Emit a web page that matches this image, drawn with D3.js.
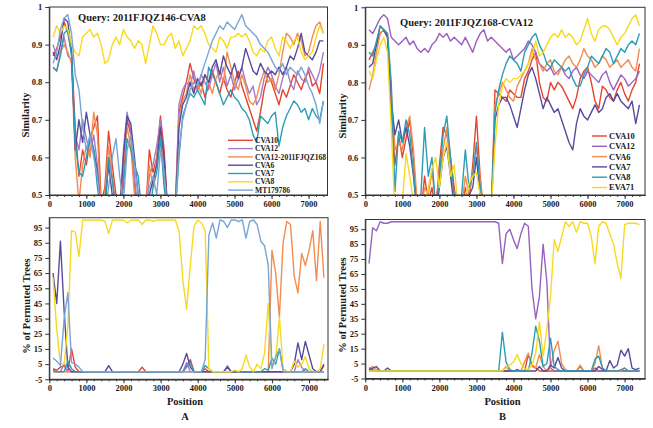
<!DOCTYPE html>
<html lang="en">
<head>
<meta charset="utf-8">
<title>Similarity plot and bootscan analysis</title>
<script src="https://cdn.jsdelivr.net/npm/d3@7/dist/d3.min.js"></script>
<style>
    body { margin: 0; background: #fff; }
    svg text { font-family: "Liberation Serif", "Times New Roman", serif; font-weight: bold; fill: #1a1a1a; }
    .axis text { font: bold 8.5px "Liberation Serif", serif; fill: #1a1a1a; }
    .axis line, .axis path { stroke: #333; }
</style>
</head>
<body>
<svg id="chart" width="653" height="428"></svg>
<script>

// window positions (bp) shared by all four panels
var positions = [
    100, 200, 300, 400, 500, 600, 700, 800, 900, 1000,
    1100, 1200, 1300, 1400, 1500, 1600, 1700, 1800, 1900, 2000,
    2100, 2200, 2300, 2400, 2500, 2600, 2700, 2800, 2900, 3000,
    3100, 3200, 3300, 3400, 3500, 3600, 3700, 3800, 3900, 4000,
    4100, 4200, 4300, 4400, 4500, 4600, 4700, 4800, 4900, 5000,
    5100, 5200, 5300, 5400, 5500, 5600, 5700, 5800, 5900, 6000,
    6100, 6200, 6300, 6400, 6500, 6600, 6700, 6800, 6900, 7000,
    7100, 7200, 7300, 7400];

var x_tick_labels = [0, 1000, 2000, 3000, 4000, 5000, 6000, 7000];
var sim_tick_labels = [0.5, 0.6, 0.7, 0.8, 0.9, 1];
var boot_tick_labels = [-5, 5, 15, 25, 35, 45, 55, 65, 75, 85, 95];

// panel A: query 2011FJQZ146-CVA8
var names_a = ["CVA10", "CVA12", "CVA12-2011FJQZ168", "CVA6", "CVA7", "CVA8", "MT179786"];
var colors_a = ["#e8432d", "#a27bc9", "#f28c50", "#574a9c", "#2a9db6", "#f9d91e", "#78a5d6"];

// panel B: query 2011FJQZ168-CVA12
var names_b = ["CVA10", "CVA12", "CVA6", "CVA7", "CVA8", "EVA71"];
var colors_b = ["#e8432d", "#9a60bf", "#f28c50", "#574a9c", "#2a9db6", "#f9d91e"];

// similarity, panel A (values under 0.5 run off the bottom of the plot)
var simA_cva10 = [
    0.87,0.89,0.92,0.96,0.93,0.88,0.68,0.55,0.62,0.58,
    0.65,0.68,0.71,0.48,0.52,0.67,0.58,0.50,0.45,0.55,
    0.70,0.66,0.52,0.45,0.48,0.45,0.62,0.56,0.60,0.71,
    0.62,0.45,0.45,0.45,0.72,0.76,0.80,0.85,0.81,0.78,
    0.80,0.76,0.79,0.83,0.80,0.77,0.81,0.78,0.76,0.80,
    0.83,0.79,0.76,0.73,0.70,0.67,0.72,0.78,0.82,0.80,
    0.77,0.74,0.78,0.76,0.79,0.82,0.80,0.78,0.81,0.83,
    0.79,0.80,0.77,0.85];
var simA_cva12 = [
    0.90,0.87,0.88,0.92,0.87,0.86,0.66,0.62,0.70,0.65,
    0.61,0.66,0.58,0.45,0.45,0.60,0.55,0.46,0.45,0.62,
    0.72,0.67,0.55,0.45,0.45,0.45,0.55,0.58,0.63,0.70,
    0.58,0.45,0.45,0.46,0.74,0.78,0.80,0.79,0.83,0.78,
    0.82,0.80,0.78,0.82,0.85,0.80,0.84,0.79,0.82,0.78,
    0.81,0.84,0.80,0.77,0.79,0.74,0.76,0.81,0.84,0.82,
    0.79,0.77,0.81,0.84,0.80,0.78,0.83,0.81,0.80,0.84,
    0.82,0.80,0.83,0.88];
var simA_cva12_168 = [
    0.84,0.83,0.88,0.90,0.88,0.85,0.60,0.48,0.58,0.63,
    0.60,0.72,0.66,0.45,0.50,0.63,0.55,0.45,0.45,0.58,
    0.68,0.63,0.50,0.45,0.45,0.45,0.58,0.52,0.60,0.66,
    0.55,0.45,0.45,0.45,0.70,0.75,0.77,0.82,0.78,0.80,
    0.77,0.82,0.80,0.77,0.81,0.83,0.80,0.88,0.84,0.80,
    0.78,0.82,0.79,0.75,0.74,0.76,0.80,0.83,0.80,0.81,
    0.78,0.82,0.88,0.93,0.92,0.90,0.93,0.91,0.87,0.88,
    0.92,0.95,0.96,0.93];
var simA_cva6 = [
    0.88,0.86,0.90,0.97,0.96,0.88,0.62,0.70,0.64,0.72,
    0.66,0.62,0.56,0.45,0.48,0.58,0.50,0.45,0.45,0.60,
    0.71,0.69,0.60,0.50,0.45,0.45,0.50,0.54,0.58,0.68,
    0.60,0.45,0.45,0.45,0.68,0.74,0.76,0.80,0.77,0.81,
    0.79,0.82,0.80,0.84,0.86,0.82,0.87,0.84,0.82,0.85,
    0.81,0.84,0.89,0.86,0.83,0.82,0.85,0.83,0.82,0.83,
    0.82,0.84,0.82,0.84,0.87,0.86,0.89,0.93,0.88,0.87,
    0.86,0.88,0.91,0.91];
var simA_cva7 = [
    0.84,0.83,0.87,0.93,0.94,0.87,0.64,0.56,0.55,0.60,
    0.66,0.62,0.52,0.45,0.45,0.60,0.54,0.45,0.45,0.52,
    0.65,0.62,0.58,0.55,0.45,0.45,0.45,0.52,0.56,0.65,
    0.52,0.45,0.45,0.45,0.60,0.71,0.74,0.77,0.76,0.78,
    0.76,0.74,0.84,0.82,0.80,0.77,0.74,0.76,0.78,0.76,
    0.75,0.73,0.72,0.70,0.66,0.64,0.71,0.70,0.69,0.71,
    0.72,0.63,0.68,0.71,0.73,0.75,0.74,0.72,0.73,0.70,
    0.73,0.71,0.70,0.75];
var simA_cva8 = [
    0.92,0.95,0.93,0.95,0.94,0.90,0.88,0.87,0.92,0.93,
    0.94,0.92,0.93,0.90,0.85,0.86,0.90,0.92,0.90,0.94,
    0.92,0.91,0.89,0.91,0.90,0.85,0.90,0.95,0.93,0.90,
    0.90,0.92,0.93,0.89,0.91,0.87,0.89,0.91,0.95,0.94,
    0.95,0.93,0.90,0.89,0.88,0.92,0.91,0.89,0.92,0.92,
    0.93,0.92,0.93,0.91,0.88,0.87,0.89,0.88,0.91,0.92,
    0.89,0.87,0.92,0.91,0.89,0.91,0.92,0.88,0.86,0.87,
    0.88,0.92,0.95,0.93];
var simA_mt179786 = [
    0.85,0.88,0.94,0.97,0.98,0.93,0.82,0.78,0.68,0.62,
    0.66,0.60,0.55,0.45,0.45,0.52,0.60,0.65,0.55,0.48,
    0.62,0.66,0.58,0.50,0.45,0.45,0.52,0.55,0.50,0.62,
    0.56,0.45,0.45,0.45,0.62,0.70,0.74,0.78,0.80,0.79,
    0.82,0.85,0.88,0.91,0.93,0.95,0.94,0.96,0.95,0.94,
    0.96,0.98,0.95,0.94,0.93,0.92,0.90,0.89,0.88,0.86,
    0.84,0.83,0.85,0.82,0.84,0.83,0.82,0.84,0.82,0.79,
    0.77,0.74,0.69,0.75];

// similarity, panel B
var simB_cva10 = [
    0.86,0.88,0.90,0.93,0.94,0.92,0.72,0.58,0.66,0.60,
    0.65,0.70,0.60,0.45,0.45,0.55,0.48,0.52,0.45,0.58,
    0.68,0.66,0.60,0.52,0.45,0.45,0.52,0.48,0.58,0.71,
    0.55,0.45,0.45,0.45,0.78,0.77,0.76,0.75,0.78,0.77,
    0.76,0.76,0.81,0.83,0.86,0.88,0.80,0.76,0.75,0.80,
    0.78,0.80,0.79,0.77,0.75,0.73,0.76,0.81,0.83,0.84,
    0.80,0.75,0.73,0.79,0.78,0.76,0.75,0.78,0.80,0.77,
    0.75,0.78,0.80,0.85];
var simB_cva12 = [
    0.94,0.93,0.95,0.97,0.98,0.97,0.92,0.91,0.90,0.91,
    0.92,0.90,0.91,0.89,0.88,0.89,0.88,0.90,0.91,0.93,
    0.92,0.93,0.91,0.92,0.91,0.90,0.92,0.90,0.88,0.91,
    0.93,0.94,0.91,0.92,0.91,0.90,0.89,0.88,0.89,0.86,
    0.87,0.88,0.89,0.91,0.90,0.88,0.85,0.84,0.83,0.84,
    0.82,0.83,0.84,0.82,0.81,0.83,0.84,0.82,0.81,0.83,
    0.82,0.81,0.80,0.82,0.83,0.80,0.78,0.80,0.82,0.81,
    0.79,0.80,0.81,0.83];
var simB_cva6 = [
    0.78,0.82,0.88,0.93,0.94,0.93,0.78,0.62,0.64,0.62,
    0.68,0.71,0.62,0.48,0.45,0.52,0.50,0.56,0.48,0.55,
    0.62,0.68,0.56,0.50,0.45,0.47,0.55,0.50,0.56,0.63,
    0.54,0.45,0.45,0.45,0.74,0.77,0.80,0.78,0.76,0.75,
    0.79,0.81,0.83,0.85,0.89,0.86,0.85,0.83,0.85,0.86,
    0.83,0.82,0.84,0.86,0.87,0.85,0.84,0.86,0.89,0.87,
    0.86,0.84,0.85,0.87,0.86,0.84,0.85,0.86,0.84,0.85,
    0.86,0.84,0.83,0.89];
var simB_cva7 = [
    0.84,0.85,0.90,0.95,0.94,0.92,0.75,0.66,0.70,0.64,
    0.68,0.63,0.55,0.45,0.45,0.50,0.45,0.45,0.45,0.52,
    0.60,0.63,0.55,0.47,0.45,0.45,0.45,0.50,0.52,0.60,
    0.50,0.45,0.45,0.45,0.70,0.74,0.76,0.76,0.74,0.71,
    0.68,0.73,0.78,0.82,0.84,0.81,0.77,0.73,0.76,0.74,
    0.72,0.73,0.70,0.67,0.64,0.62,0.69,0.73,0.71,0.70,
    0.72,0.74,0.72,0.73,0.76,0.77,0.75,0.77,0.75,0.74,
    0.73,0.75,0.69,0.74];
var simB_cva8 = [
    0.88,0.87,0.91,0.95,0.94,0.93,0.80,0.51,0.67,0.64,
    0.70,0.66,0.56,0.45,0.50,0.68,0.55,0.60,0.46,0.55,
    0.66,0.71,0.60,0.50,0.45,0.50,0.62,0.52,0.55,0.64,
    0.52,0.45,0.45,0.45,0.72,0.78,0.82,0.85,0.87,0.86,
    0.85,0.83,0.88,0.90,0.92,0.93,0.90,0.88,0.85,0.84,
    0.86,0.85,0.84,0.83,0.84,0.81,0.79,0.79,0.82,0.84,
    0.87,0.86,0.85,0.87,0.89,0.88,0.85,0.87,0.89,0.88,
    0.90,0.91,0.90,0.93];
var simB_eva71 = [
    0.83,0.81,0.86,0.90,0.92,0.88,0.68,0.45,0.45,0.48,
    0.61,0.55,0.48,0.45,0.45,0.48,0.52,0.57,0.60,0.52,
    0.60,0.64,0.55,0.58,0.47,0.45,0.50,0.53,0.55,0.56,
    0.50,0.45,0.45,0.46,0.63,0.74,0.79,0.81,0.80,0.81,
    0.81,0.82,0.83,0.85,0.87,0.91,0.87,0.88,0.90,0.92,
    0.93,0.92,0.94,0.92,0.93,0.92,0.90,0.91,0.94,0.97,
    0.93,0.91,0.94,0.95,0.95,0.94,0.92,0.90,0.92,0.93,
    0.95,0.97,0.98,0.95];

// bootscan (% of permuted trees), panel A
var bootA_cva10 = [
    2,1,3,4,0,15,3,0,0,0,
    0,0,0,0,0,0,0,0,0,0,
    0,0,0,0,3,0,0,0,0,0,
    0,0,0,0,0,0,4,8,0,0,
    0,2,0,0,0,0,0,0,0,0,
    0,0,0,0,0,0,0,0,0,0,
    0,0,0,0,0,0,0,0,0,0,
    0,0,0,4];
var bootA_cva12 = [
    0,0,0,5,0,0,0,0,0,0,
    0,0,0,0,0,0,0,0,0,0,
    0,0,0,0,0,0,0,0,0,0,
    0,0,0,0,0,0,6,0,0,0,
    0,0,0,0,0,0,0,4,0,0,
    0,0,0,0,0,0,0,0,0,0,
    0,0,0,0,0,0,8,3,0,0,
    0,0,0,0];
var bootA_cva12_168 = [
    0,0,0,0,0,0,0,0,0,0,
    0,0,0,0,0,0,0,0,0,0,
    0,0,0,0,0,0,0,0,0,0,
    0,0,0,0,0,0,0,0,0,0,
    0,0,0,0,0,0,0,0,0,0,
    0,0,0,0,0,0,0,0,0,80,
    65,36,85,99,97,63,52,78,70,80,
    93,60,99,62];
var bootA_cva6 = [
    65,45,86,40,3,0,0,0,0,0,
    0,0,0,0,0,4,0,0,0,0,
    0,0,0,0,0,0,0,0,0,0,
    0,0,0,0,0,5,12,3,0,0,
    0,0,0,0,0,0,0,3,0,0,
    0,0,0,0,0,0,0,0,0,0,
    0,0,0,0,0,5,19,8,20,11,
    2,0,0,5];
var bootA_cva7 = [
    1,0,0,0,7,2,0,0,0,0,
    0,0,0,0,0,0,0,0,0,0,
    0,0,0,0,0,0,0,0,0,0,
    0,0,0,0,0,0,3,6,0,0,
    0,4,2,0,0,0,0,0,0,0,
    0,0,0,0,0,0,0,2,1,9,
    5,15,2,0,0,0,0,0,2,0,
    0,0,0,0];
var bootA_cva8 = [
    62,28,5,5,30,93,92,76,100,100,
    100,100,100,100,99,91,100,100,100,100,
    98,100,100,100,97,100,100,99,100,100,
    100,100,100,100,92,60,41,70,96,100,
    98,93,2,0,0,0,0,0,0,1,
    0,2,11,3,0,5,2,12,45,3,
    8,36,2,0,0,7,3,5,10,2,
    0,0,2,18];
var bootA_mt179786 = [
    9,7,4,35,52,6,5,3,0,0,
    0,0,0,0,0,0,0,0,0,0,
    0,0,0,0,0,0,0,0,0,0,
    0,0,0,0,0,0,0,0,0,0,
    0,8,90,98,88,100,99,95,100,100,
    99,100,88,99,100,97,86,83,70,2,
    10,15,0,0,0,0,0,0,0,0,
    0,0,0,0];

// bootscan, panel B
var bootB_cva10 = [
    2,1,0,0,0,0,0,0,0,0,
    0,0,0,0,0,0,0,0,0,0,
    0,0,0,0,0,0,0,0,0,0,
    0,0,0,0,0,0,0,0,0,0,
    0,0,0,11,4,2,0,0,0,0,
    0,0,0,0,0,0,0,3,0,0,
    0,2,0,0,0,0,0,0,0,0,
    0,0,0,0];
var bootB_cva12 = [
    72,96,94,100,99,99,100,100,100,100,
    100,100,100,100,100,100,100,100,100,100,
    100,100,100,100,100,100,100,100,100,100,
    100,100,100,100,100,99,72,92,95,88,
    82,92,99,97,55,35,50,85,60,2,
    0,0,0,0,0,0,0,0,0,0,
    0,0,0,0,0,0,0,0,0,0,
    0,0,0,0];
var bootB_cva6 = [
    2,3,1,0,0,0,0,0,0,0,
    0,0,0,0,0,0,0,0,0,0,
    0,0,0,0,0,0,0,0,0,0,
    0,0,0,0,0,0,0,3,0,0,
    0,0,6,12,3,2,11,3,0,2,
    14,20,5,1,0,0,0,4,0,0,
    0,5,17,2,0,0,0,0,0,2,
    0,0,0,0];
var bootB_cva7 = [
    1,2,3,0,0,2,0,0,0,0,
    0,0,0,0,0,0,0,0,0,0,
    0,0,0,0,0,0,0,0,0,0,
    0,0,0,0,0,0,0,0,0,0,
    1,0,0,0,0,0,3,0,0,4,
    2,9,2,0,0,0,0,0,0,0,
    0,0,3,1,0,7,2,4,14,10,
    15,2,1,2];
var bootB_cva8 = [
    0,0,0,0,0,0,0,0,0,0,
    0,0,0,0,0,0,0,0,0,0,
    0,0,0,0,0,0,0,0,0,0,
    0,0,0,0,0,0,26,6,1,0,
    0,0,0,0,12,30,20,3,5,22,
    3,1,0,0,0,0,0,0,0,0,
    0,8,10,2,0,0,0,0,1,2,
    0,0,0,0];
var bootB_eva71 = [
    0,0,0,0,0,0,0,0,0,0,
    0,0,0,0,0,0,0,0,0,0,
    0,0,0,0,0,0,0,0,0,0,
    0,0,0,0,0,0,0,2,4,6,
    11,5,2,1,4,12,33,10,28,50,
    88,80,90,100,97,100,93,100,99,99,
    90,72,97,100,99,92,85,72,62,98,
    99,99,99,98];

var svg = d3.select("#chart");

// pair each value list with the shared positions
function make_series(names, colors, value_lists) {
    return names.map(function(name, k) {
        return {
            name: name,
            color: colors[k],
            points: positions.map(function(p, i) { return {pos: p, v: value_lists[k][i]}; })
        };
    });
}

function sim_format(d) {
    return d === 1 ? "1" : d.toFixed(1);
}

// plain hyphen for the -5 label, like the original figure
function boot_format(d) {
    return String(d);
}

// draw one framed plot with its lines and axes
function draw_panel(box, x_max, y_domain, y_ticks, y_format, series, clip_id) {
    var x = d3.scaleLinear().domain([0, x_max]).range([box.left, box.right]);
    var y = d3.scaleLinear().domain(y_domain).range([box.bottom, box.top]);

    svg.append("clipPath").attr("id", clip_id)
        .append("rect")
        .attr("x", box.left)
        .attr("y", box.top)
        .attr("width", box.right - box.left)
        .attr("height", box.bottom - box.top);

    var line = d3.line()
        .x(function(d) { return x(d.pos); })
        .y(function(d) { return y(d.v); });

    svg.append("g")
        .attr("clip-path", "url(#" + clip_id + ")")
        .selectAll("path")
        .data(series)
        .enter()
        .append("path")
        .attr("d", function(d) { return line(d.points); })
        .attr("fill", "none")
        .attr("stroke", function(d) { return d.color; })
        .attr("stroke-width", 1.4)
        .attr("stroke-linejoin", "round");

    // x axis with minor ticks
    svg.append("g")
        .attr("class", "axis")
        .attr("transform", "translate(0," + box.bottom + ")")
        .call(d3.axisBottom(x).tickValues(d3.range(0, 7500, 200)).tickSize(2).tickSizeOuter(0).tickFormat(""));
    svg.append("g")
        .attr("class", "axis")
        .attr("transform", "translate(0," + box.bottom + ")")
        .call(d3.axisBottom(x).tickValues(x_tick_labels).tickSize(4).tickSizeOuter(0).tickPadding(2).tickFormat(d3.format("d")));

    svg.append("g")
        .attr("class", "axis")
        .attr("transform", "translate(" + box.left + ",0)")
        .call(d3.axisLeft(y).tickValues(y_ticks).tickSize(4).tickSizeOuter(0).tickPadding(3).tickFormat(y_format));

    svg.append("rect")
        .attr("x", box.left)
        .attr("y", box.top)
        .attr("width", box.right - box.left)
        .attr("height", box.bottom - box.top)
        .attr("fill", "none")
        .attr("stroke", "#333")
        .attr("stroke-width", 1);
}

function draw_legend(series, x0, y0, step, size, line_len) {
    var rows = svg.append("g")
        .selectAll("g")
        .data(series)
        .enter()
        .append("g")
        .attr("transform", function(d, i) { return "translate(" + x0 + "," + (y0 + i * step) + ")"; });
    rows.append("line")
        .attr("x1", 0).attr("x2", line_len)
        .attr("stroke", function(d) { return d.color; })
        .attr("stroke-width", 1.4);
    rows.append("text")
        .attr("x", line_len + 2)
        .attr("dy", "0.35em")
        .style("font-size", size + "px")
        .text(function(d) { return d.name; });
}

function add_text(x, y, txt, size, rotate) {
    var t = svg.append("text")
        .attr("text-anchor", "middle")
        .attr("dy", "0.35em")
        .style("font-size", size + "px")
        .text(txt);
    if (rotate) {
        t.attr("transform", "translate(" + x + "," + y + ") rotate(-90)");
    } else {
        t.attr("x", x).attr("y", y);
    }
}

var simA = make_series(names_a, colors_a,
    [simA_cva10, simA_cva12, simA_cva12_168, simA_cva6, simA_cva7, simA_cva8, simA_mt179786]);
var simB = make_series(names_b, colors_b,
    [simB_cva10, simB_cva12, simB_cva6, simB_cva7, simB_cva8, simB_eva71]);
var bootA = make_series(names_a, colors_a,
    [bootA_cva10, bootA_cva12, bootA_cva12_168, bootA_cva6, bootA_cva7, bootA_cva8, bootA_mt179786]);
var bootB = make_series(names_b, colors_b,
    [bootB_cva10, bootB_cva12, bootB_cva6, bootB_cva7, bootB_cva8, bootB_eva71]);

draw_panel({left: 49.3, right: 327.5, top: 7, bottom: 195}, 7510, [0.5, 1], sim_tick_labels, sim_format, simA, "clip_sim_a");
draw_panel({left: 365.3, right: 645, top: 7.3, bottom: 195}, 7550, [0.5, 1], sim_tick_labels, sim_format, simB, "clip_sim_b");
draw_panel({left: 49.3, right: 328, top: 217.7, bottom: 379.3}, 7510, [-5, 101.5], boot_tick_labels, boot_format, bootA, "clip_boot_a");
draw_panel({left: 365.3, right: 645, top: 219.5, bottom: 378.5}, 7550, [-5, 101.5], boot_tick_labels, boot_format, bootB, "clip_boot_b");

draw_legend(simA, 228, 140.3, 8.3, 7.6, 25);
draw_legend(simB, 592, 136, 10.3, 8.5, 15);

svg.append("text").attr("x", 78).attr("y", 20.5).style("font-size", "10.5px").text("Query: 2011FJQZ146-CVA8");
svg.append("text").attr("x", 400).attr("y", 26).style("font-size", "10.5px").text("Query: 2011FJQZ168-CVA12");

add_text(25, 115, "Similarity", 10.5, true);
add_text(342.7, 116, "Similarity", 10.5, true);
add_text(26, 306, "% of Permuted Trees", 10.5, true);
add_text(342.7, 305, "% of Permuted Trees", 10.5, true);
add_text(185, 401.7, "Position", 10.5, false);
add_text(502.5, 401.7, "Position", 10.5, false);
add_text(185, 416, "A", 10.5, false);
add_text(502.5, 416, "B", 10.5, false);

</script>
</body>
</html>
